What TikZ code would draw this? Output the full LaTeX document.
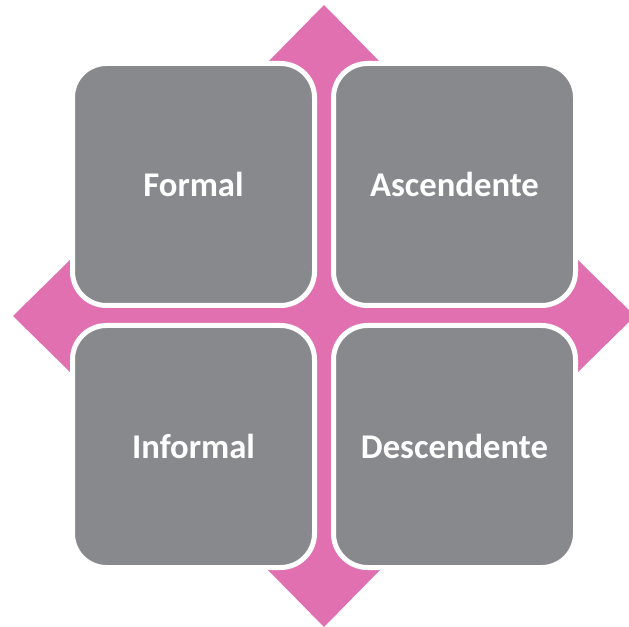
\documentclass[tikz,border=0pt]{standalone}
\usepackage{fontspec}
\setmainfont{Carlito}
\usepackage{xcolor}
\definecolor{crossPink}{RGB}{225,112,177}
\definecolor{boxGrey}{RGB}{136,137,141}

\begin{document}
\begin{tikzpicture}[x=0.75pt,y=0.75pt,yscale=-1,xscale=1,
  quadbox/.style={draw=white, line width=3.75pt, fill=boxGrey, rounded corners=25.5pt,
    minimum width=181.5pt, minimum height=181.5pt, inner sep=0pt,
    text=white, font=\fontsize{26}{30}\selectfont\bfseries}]
\useasboundingbox (0,0) rectangle (629,627);

%Shape: Four-way arrow [id:crossArrow]
\fill [crossPink] (324,5) -- (380,62) -- (380,260) -- (578,260) -- (635,316) -- (578,372) -- (380,372) -- (380,570) -- (324,627) -- (268,570) -- (268,372) -- (70,372) -- (13,316) -- (70,260) -- (268,260) -- (268,62) -- cycle ;

% Text Node
\node [quadbox] (formal) at (193.5,184.5) {Formal};
% Text Node
\node [quadbox] (ascend) at (454.5,184.5) {Ascendente};
% Text Node
\node [quadbox] (informal) at (193.5,446.5) {Informal};
% Text Node
\node [quadbox] (descend) at (454.5,446.5) {Descendente};

\end{tikzpicture}
\end{document}
